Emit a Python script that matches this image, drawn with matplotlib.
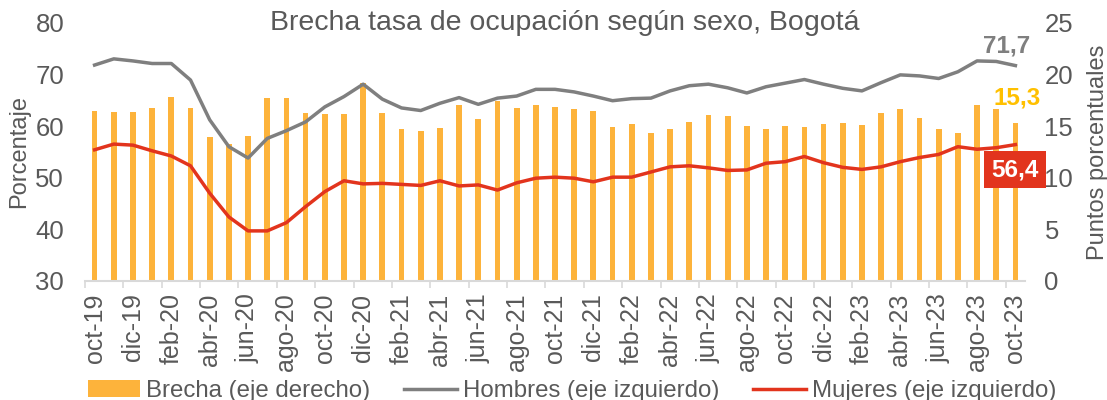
import matplotlib
matplotlib.use("Agg")
import matplotlib.pyplot as plt
import numpy as np

plt.rcParams['font.family'] = ['Liberation Sans', 'DejaVu Sans']

months = ["oct-19", "nov-19", "dic-19", "ene-20", "feb-20", "mar-20", "abr-20", "may-20", "jun-20",
          "jul-20", "ago-20", "sep-20", "oct-20", "nov-20", "dic-20", "ene-21", "feb-21", "mar-21",
          "abr-21", "may-21", "jun-21", "jul-21", "ago-21", "sep-21", "oct-21", "nov-21", "dic-21",
          "ene-22", "feb-22", "mar-22", "abr-22", "may-22", "jun-22", "jul-22", "ago-22", "sep-22",
          "oct-22", "nov-22", "dic-22", "ene-23", "feb-23", "mar-23", "abr-23", "may-23", "jun-23",
          "jul-23", "ago-23", "sep-23", "oct-23"]

hombres = [71.8, 73.0, 72.6, 72.1, 72.1, 68.9, 61.2, 56.0, 53.8, 57.6, 59.1, 60.8, 63.7, 65.7, 68.1,
           65.2, 63.5, 63.0, 64.4, 65.5, 64.2, 65.4, 65.8, 67.1, 67.1, 66.6, 65.8, 64.9, 65.3, 65.4,
           66.8, 67.8, 68.1, 67.4, 66.4, 67.6, 68.3, 69.0, 68.1, 67.3, 66.8, 68.4, 69.9, 69.7, 69.2,
           70.5, 72.6, 72.5, 71.7]

mujeres = [55.4, 56.5, 56.3, 55.2, 54.2, 52.3, 47.0, 42.4, 39.7, 39.7, 41.3, 44.4, 47.3, 49.4, 48.8,
           48.9, 48.7, 48.5, 49.4, 48.4, 48.6, 47.6, 49.0, 49.9, 50.1, 49.9, 49.2, 50.1, 50.1, 51.1,
           52.1, 52.3, 51.9, 51.4, 51.5, 52.8, 53.1, 54.1, 52.9, 52.0, 51.6, 52.1, 53.1, 53.9, 54.5,
           56.0, 55.5, 55.8, 56.4]

brecha = [16.5, 16.4, 16.4, 16.7, 17.8, 16.7, 13.9, 13.3, 14.0, 17.7, 17.7, 16.3, 16.2, 16.2, 19.2,
          16.3, 14.7, 14.5, 14.8, 17.0, 15.7, 17.4, 16.7, 17.0, 16.8, 16.6, 16.5, 14.9, 15.2, 14.3,
          14.7, 15.4, 16.1, 16.0, 15.0, 14.7, 15.0, 14.9, 15.2, 15.3, 15.1, 16.3, 16.6, 15.8, 14.7,
          14.3, 17.0, 16.6, 15.3]

title = "Brecha tasa de ocupación según sexo, Bogotá"
txt = '#595959'
c_bar = '#FDB33B'
c_h = '#7F7F7F'
c_m = '#E2341D'

fig = plt.figure(figsize=(11.07, 4.0), dpi=100)
ax = fig.add_axes([85/1107, 119/400, 940/1107, (281-22.7)/400])
ax2 = ax.twinx()

x = np.arange(len(months))
ax2.bar(x, brecha, width=0.3, color=c_bar, zorder=1, label='Brecha (eje derecho)')
ax.plot(x, hombres, color=c_h, lw=2.5, zorder=3, label='Hombres (eje izquierdo)')
ax.plot(x, mujeres, color=c_m, lw=2.5, zorder=3, label='Mujeres (eje izquierdo)')

# lines on top of bars
ax.set_zorder(ax2.get_zorder() + 1)
ax.patch.set_visible(False)

ax.set_xlim(-0.5, len(months) - 0.5)
ax.set_ylim(30, 80)
ax2.set_ylim(0, 25)
ax.set_yticks(range(30, 81, 10))
ax2.set_yticks(range(0, 26, 5))

ax.set_xticks(x[::2])
ax.set_xticklabels(months[::2], rotation=90, fontsize=18, color=txt)
ax.set_xticks(np.arange(-0.5, len(months), 2), minor=True)
ax.tick_params(axis='x', which='major', length=0, pad=9)
ax.tick_params(axis='x', which='minor', length=5, color='#D9D9D9', width=1.2)
ax.tick_params(axis='y', length=0, labelsize=18.5, labelcolor=txt, pad=15)
ax2.tick_params(axis='y', length=0, labelsize=18.5, labelcolor=txt, pad=14)

for a in (ax, ax2):
    for s in ('top', 'left', 'right', 'bottom'):
        a.spines[s].set_visible(False)
ax.spines['bottom'].set_visible(True)
ax.spines['bottom'].set_color('#D9D9D9')
ax.spines['bottom'].set_linewidth(1.5)

ax.set_ylabel('Porcentaje', fontsize=17, color=txt, labelpad=4)
ax2.set_ylabel('Puntos porcentuales', fontsize=17, color=txt, labelpad=10)

fig.text(565/1107, 1 - 23/400, title, ha='center', va='center', fontsize=20.5, color=txt)

# end labels
last = len(months) - 1
ax.annotate(f"{hombres[-1]:.1f}".replace('.', ','), xy=(last, hombres[-1]), xytext=(-6, 14),
            textcoords='offset points', ha='center', va='center', fontsize=17.5,
            fontweight='bold', color=c_h)
ax2.annotate(f"{brecha[-1]:.1f}".replace('.', ','), xy=(last, brecha[-1]), xytext=(1, 18),
             textcoords='offset points', ha='center', va='center', fontsize=17.5,
             fontweight='bold', color='#FFC000')
ax.annotate(f"{mujeres[-1]:.1f}".replace('.', ','), xy=(last, mujeres[-1]), xytext=(0, -18),
            textcoords='offset points', ha='center', va='center', fontsize=17.5,
            fontweight='bold', color='white',
            bbox=dict(boxstyle='square,pad=0.3', fc=c_m, ec='none'), zorder=5)

h1, l1 = ax2.get_legend_handles_labels()
h2, l2 = ax.get_legend_handles_labels()
leg = fig.legend(h1 + h2, l1 + l2, loc='center', bbox_to_anchor=(572/1107, 9/400), ncol=3,
                 frameon=False, fontsize=17.3, handlelength=2.2, handletextpad=0.25,
                 columnspacing=1.4, labelcolor=txt)

fig.savefig('out.png', dpi=100)
